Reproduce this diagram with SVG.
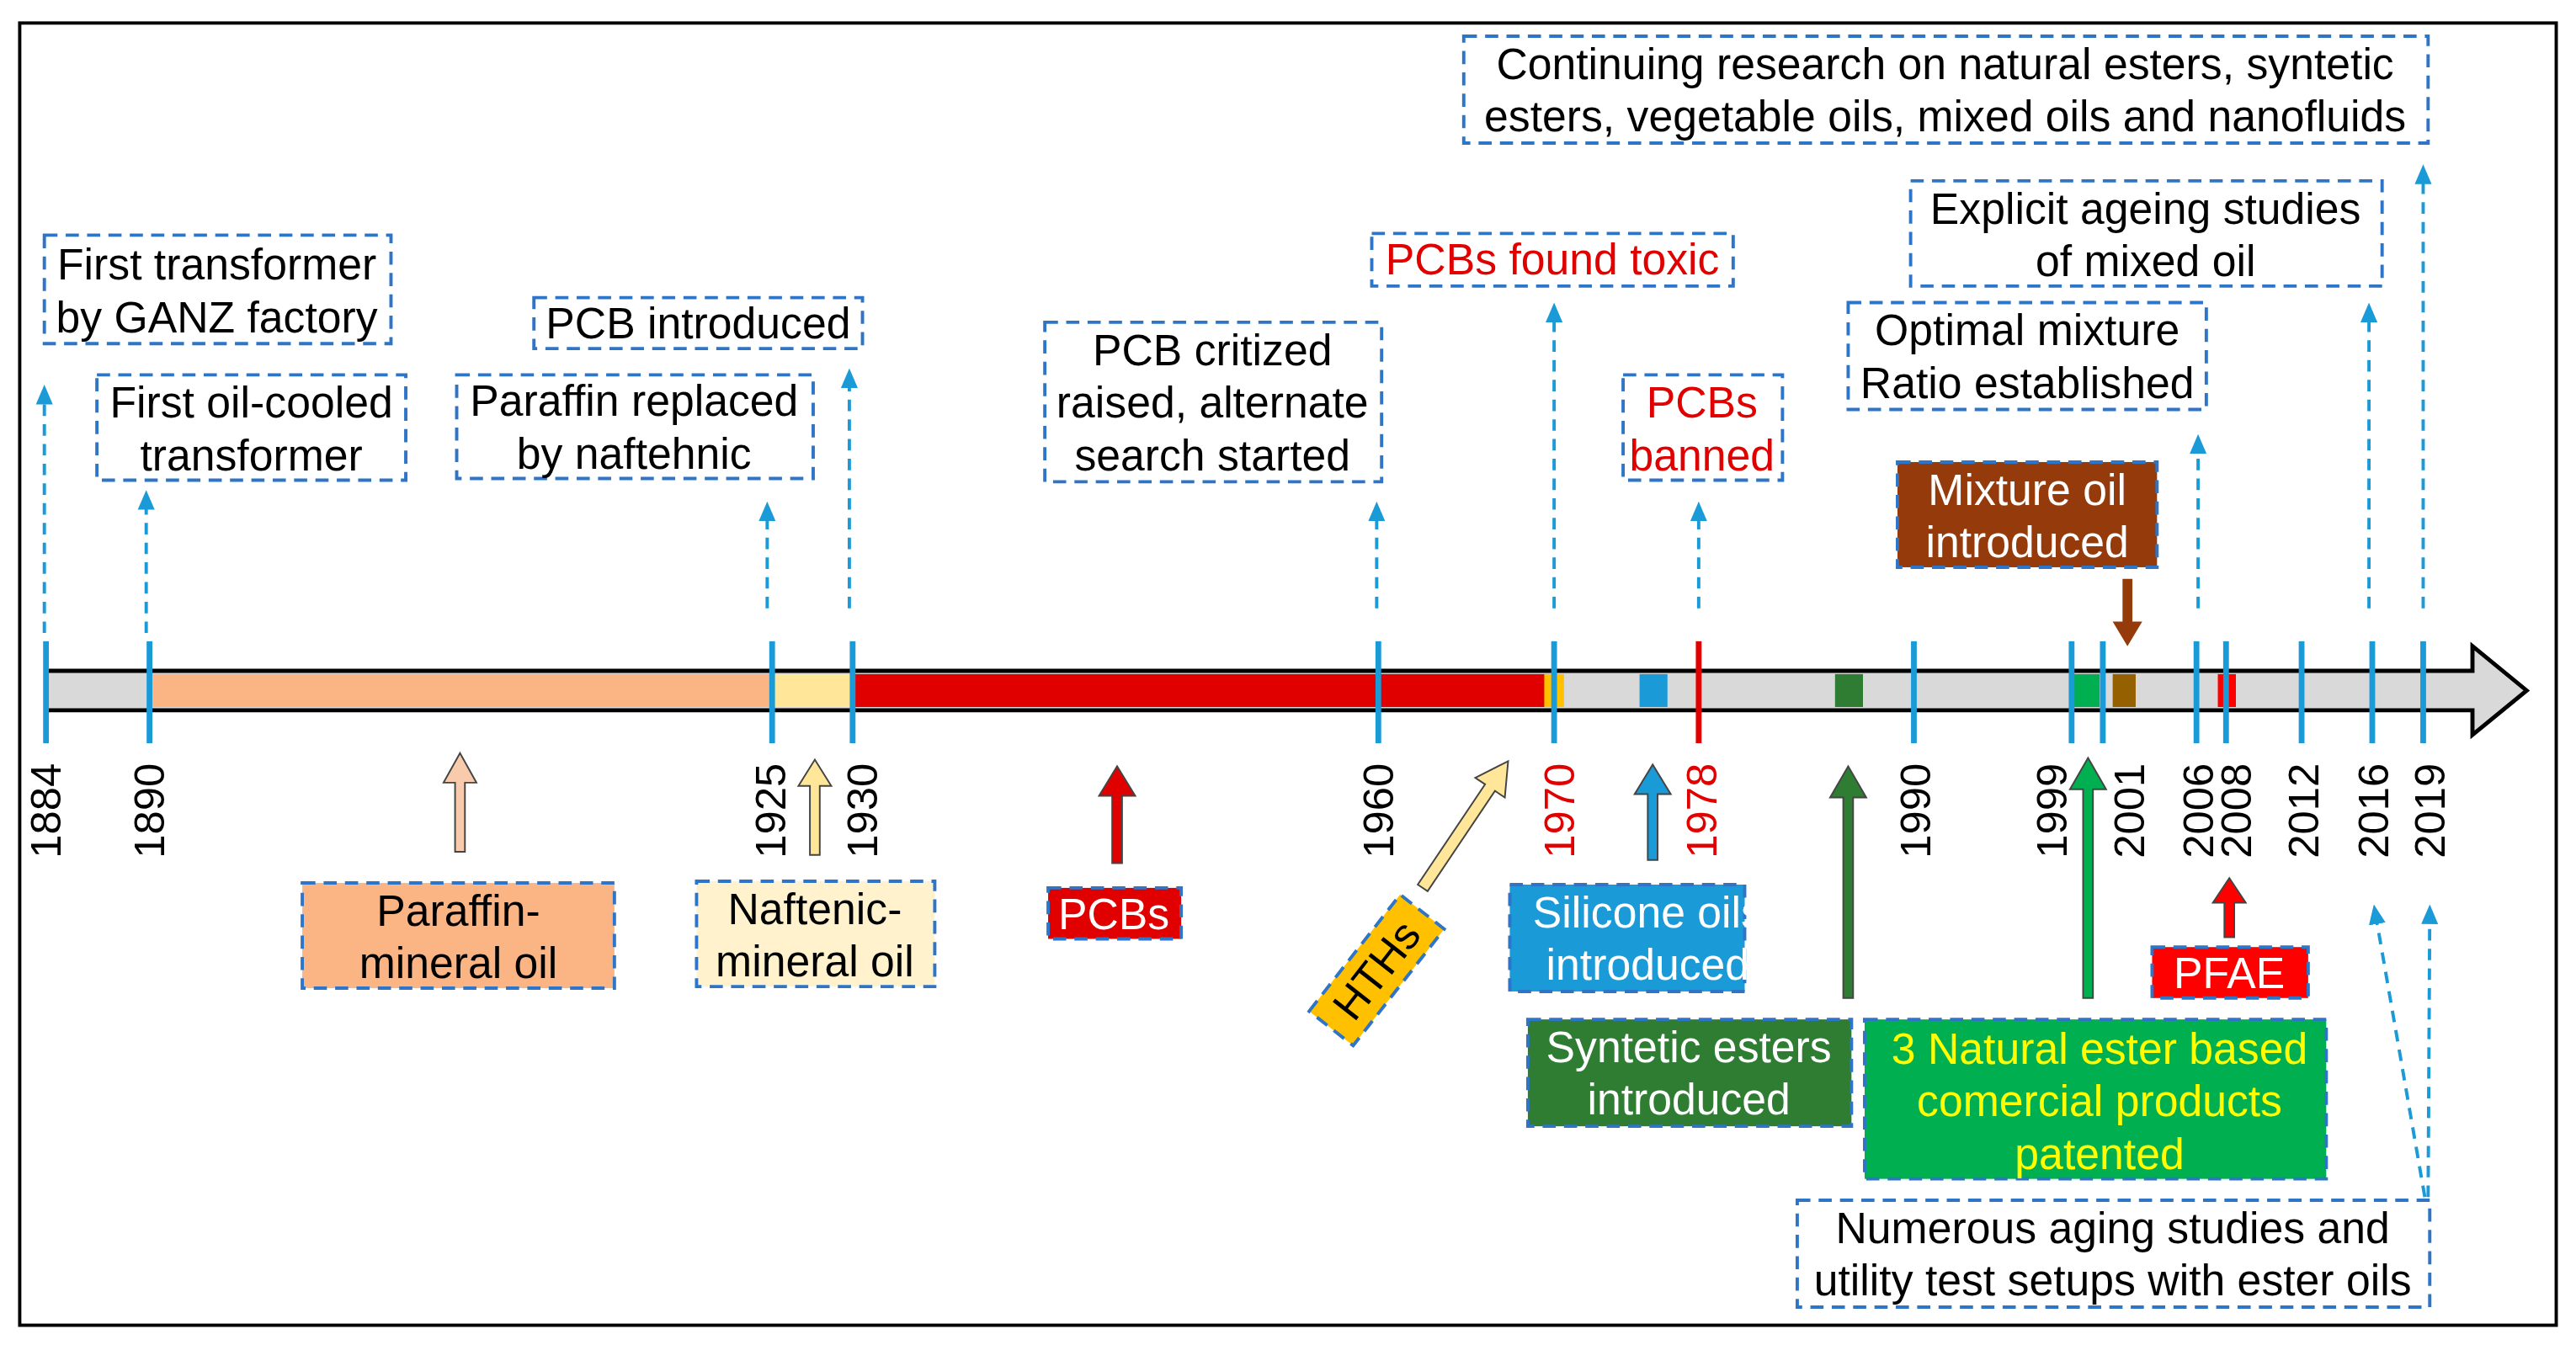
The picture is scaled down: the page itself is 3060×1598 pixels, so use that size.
<svg xmlns="http://www.w3.org/2000/svg" width="3060" height="1598" viewBox="0 0 3060 1598">
<defs>
<marker id="ah" markerWidth="12" markerHeight="14" refX="7" refY="6" orient="auto" markerUnits="userSpaceOnUse" viewBox="0 0 14 12"><path d="M0,0 L14,6 L0,12 z" fill="#1B9AD8"/></marker>
<style>
.t{font-family:"Liberation Sans",Arial,sans-serif;font-size:26.5px;text-anchor:middle}
.y{font-family:"Liberation Sans",Arial,sans-serif;font-size:26px}
.b{stroke:#2E75C8;stroke-width:2;stroke-dasharray:8 5}
.da{stroke:#1B9AD8;stroke-width:2;stroke-dasharray:7 5;fill:none}
.tk{stroke:#1B9AD8;stroke-width:3.5}
.ba{stroke:#444;stroke-width:1}
</style>
</defs>
<rect width="3060" height="1598" fill="#fff"/>
<g transform="scale(1.9515 1.9535)">
<rect x="12" y="14" width="1544" height="792" fill="none" stroke="#000" stroke-width="2"/>
<g id="timeline">
<polygon points="28,408 1505,408 1505,393 1538,420 1505,447 1505,432 28,432" fill="#D9D9D9" stroke="#000" stroke-width="2.5"/>
<rect x="91" y="410" width="379" height="20" fill="#FBB584"/>
<rect x="470" y="410" width="49" height="20" fill="#FFE699"/>
<rect x="519" y="410" width="427" height="20" fill="#E00000"/>
<rect x="940" y="410" width="12" height="20" fill="#FFC000"/>
<rect x="998" y="410" width="17" height="20" fill="#1B9AD8"/>
<rect x="1117" y="410" width="17" height="20" fill="#2E7D32"/>
<rect x="1262" y="410" width="16" height="20" fill="#00B050"/>
<rect x="1286" y="410" width="14" height="20" fill="#946000"/>
<rect x="1350" y="410" width="11" height="20" fill="#FF0000"/>
</g>
<g id="ticks">
<line class="tk" x1="28" y1="390" x2="28" y2="452"/>
<line class="tk" x1="91" y1="390" x2="91" y2="452"/>
<line class="tk" x1="470" y1="390" x2="470" y2="452"/>
<line class="tk" x1="519" y1="390" x2="519" y2="452"/>
<line class="tk" x1="839" y1="390" x2="839" y2="452"/>
<line class="tk" x1="946" y1="390" x2="946" y2="452"/>
<line x1="1034" y1="390" x2="1034" y2="452" stroke="#E00000" stroke-width="3.5"/>
<line class="tk" x1="1165" y1="390" x2="1165" y2="452"/>
<line class="tk" x1="1261" y1="390" x2="1261" y2="452"/>
<line class="tk" x1="1280" y1="390" x2="1280" y2="452"/>
<line class="tk" x1="1337" y1="390" x2="1337" y2="452"/>
<line class="tk" x1="1355" y1="390" x2="1355" y2="452"/>
<line class="tk" x1="1401" y1="390" x2="1401" y2="452"/>
<line class="tk" x1="1444" y1="390" x2="1444" y2="452"/>
<line class="tk" x1="1475" y1="390" x2="1475" y2="452"/>
</g>
<g id="years" class="y">
<text transform="translate(37,522) rotate(-90)">1884</text>
<text transform="translate(100,522) rotate(-90)">1890</text>
<text transform="translate(478,522) rotate(-90)">1925</text>
<text transform="translate(534,522) rotate(-90)">1930</text>
<text transform="translate(848,522) rotate(-90)">1960</text>
<text transform="translate(958,522) rotate(-90)" fill="#E00000">1970</text>
<text transform="translate(1045,522) rotate(-90)" fill="#E00000">1978</text>
<text transform="translate(1175,522) rotate(-90)">1990</text>
<text transform="translate(1258,522) rotate(-90)">1999</text>
<text transform="translate(1305,522) rotate(-90)">2001</text>
<text transform="translate(1347,522) rotate(-90)">2006</text>
<text transform="translate(1370,522) rotate(-90)">2008</text>
<text transform="translate(1411,522) rotate(-90)">2012</text>
<text transform="translate(1454,522) rotate(-90)">2016</text>
<text transform="translate(1488,522) rotate(-90)">2019</text>
</g>
<g id="connectors">
<line class="da" x1="27" y1="385" x2="27" y2="240" marker-end="url(#ah)"/>
<line class="da" x1="89" y1="385" x2="89" y2="304" marker-end="url(#ah)"/>
<line class="da" x1="467" y1="370" x2="467" y2="311" marker-end="url(#ah)"/>
<line class="da" x1="517" y1="370" x2="517" y2="230" marker-end="url(#ah)"/>
<line class="da" x1="838" y1="370" x2="838" y2="311" marker-end="url(#ah)"/>
<line class="da" x1="946" y1="370" x2="946" y2="190" marker-end="url(#ah)"/>
<line class="da" x1="1034" y1="370" x2="1034" y2="311" marker-end="url(#ah)"/>
<line class="da" x1="1338" y1="370" x2="1338" y2="270" marker-end="url(#ah)"/>
<line class="da" x1="1442" y1="370" x2="1442" y2="190" marker-end="url(#ah)"/>
<line class="da" x1="1475" y1="370" x2="1475" y2="106" marker-end="url(#ah)"/>
<line class="da" x1="1476" y1="728" x2="1446" y2="556" marker-end="url(#ah)"/>
<line class="da" x1="1478" y1="728" x2="1479" y2="556" marker-end="url(#ah)"/>
<polygon points="1292,352 1298,352 1298,378 1304,378 1295,393 1286,378 1292,378" fill="#953A0A"/>
<polygon class="ba" points="277,518 283,518 283,476 290,476 280,458 270,476 277,476" fill="#F8CBAD"/>
<polygon class="ba" points="493,520 499,520 499,478 506,478 496,462 486,478 493,478" fill="#FFE699"/>
<polygon class="ba" points="677,525 683,525 683,484 691,484 680,466 669,484 677,484" fill="#E00000"/>
<polygon class="ba" points="1003,523 1009,523 1009,483 1017,483 1006,465 995,483 1003,483" fill="#1B9AD8"/>
<polygon class="ba" points="1122,607 1128,607 1128,485 1136,485 1125,466 1114,485 1122,485" fill="#2E7D32"/>
<polygon class="ba" points="1268,607 1274,607 1274,480 1282,480 1271,461 1260,480 1268,480" fill="#00B050"/>
<polygon class="ba" points="1354,570 1360,570 1360,549 1367,549 1357,534 1347,549 1354,549" fill="#FF0000"/>
<polygon class="ba" points="863,538 869,542 910,481 916,485 918,463 898,473 904,477" fill="#FFE699"/>
</g>
<g id="n-ganz"><rect class="b" x="27" y="143" width="211" height="66" fill="#fff"/><text class="t" x="132" y="170">First transformer</text><text class="t" x="132" y="202">by GANZ factory</text></g>
<g id="n-oilcooled"><rect class="b" x="59" y="228" width="188" height="64" fill="#fff"/><text class="t" x="153" y="254">First oil-cooled</text><text class="t" x="153" y="286">transformer</text></g>
<g id="n-paraffinrep"><rect class="b" x="278" y="228" width="217" height="63" fill="#fff"/><text class="t" x="386" y="253">Paraffin replaced</text><text class="t" x="386" y="285">by naftehnic</text></g>
<g id="n-pcbintro"><rect class="b" x="325" y="181" width="200" height="31" fill="#fff"/><text class="t" x="425" y="206">PCB introduced</text></g>
<g id="n-pcbcrit"><rect class="b" x="636" y="196" width="205" height="97" fill="#fff"/><text class="t" x="738" y="222">PCB critized</text><text class="t" x="738" y="254">raised, alternate</text><text class="t" x="738" y="286">search started</text></g>
<g id="n-toxic"><rect class="b" x="835" y="142" width="220" height="32" fill="#fff"/><text class="t" x="945" y="167" fill="#E00000">PCBs found toxic</text></g>
<g id="n-banned"><rect class="b" x="988" y="228" width="97" height="64" fill="#fff"/><text class="t" x="1036" y="254" fill="#E00000">PCBs</text><text class="t" x="1036" y="286" fill="#E00000">banned</text></g>
<g id="n-mixture"><rect class="b" x="1155" y="281" width="158" height="64" fill="#953A0A"/><text class="t" x="1234" y="307" fill="#fff">Mixture oil</text><text class="t" x="1234" y="339" fill="#fff">introduced</text></g>
<g id="n-optimal"><rect class="b" x="1125" y="184" width="218" height="65" fill="#fff"/><text class="t" x="1234" y="210">Optimal mixture</text><text class="t" x="1234" y="242">Ratio established</text></g>
<g id="n-explicit"><rect class="b" x="1163" y="110" width="287" height="64" fill="#fff"/><text class="t" x="1306" y="136">Explicit ageing studies</text><text class="t" x="1306" y="168">of mixed oil</text></g>
<g id="n-continuing"><rect class="b" x="891" y="22" width="587" height="65" fill="#fff"/><text class="t" x="1184" y="48">Continuing research on natural esters, syntetic</text><text class="t" x="1184" y="80">esters, vegetable oils, mixed oils and nanofluids</text></g>
<g id="n-paraffinoil"><rect class="b" x="184" y="537" width="190" height="64" fill="#FBB584"/><text class="t" x="279" y="563">Paraffin-</text><text class="t" x="279" y="595">mineral oil</text></g>
<g id="n-naftenic"><rect class="b" x="424" y="536" width="145" height="64" fill="#FFF2CC"/><text class="t" x="496" y="562">Naftenic-</text><text class="t" x="496" y="594">mineral oil</text></g>
<g id="n-pcbs"><rect class="b" x="638" y="540" width="81" height="31" fill="#E00000"/><text class="t" x="678" y="565" fill="#fff">PCBs</text></g>
<g id="n-hths" transform="translate(838,590) rotate(-52)"><rect class="b" x="-45" y="-17" width="90" height="34" fill="#FFC000"/><text class="t" x="0" y="9">HTHs</text></g>
<g id="n-silicone"><rect class="b" x="919" y="538" width="143" height="65" fill="#1B9AD8"/><text class="t" x="1003" y="564" fill="#fff">Silicone oils</text><text class="t" x="1003" y="596" fill="#fff">introduced</text></g>
<g id="n-syntetic"><rect class="b" x="930" y="620" width="197" height="65" fill="#2E7D32"/><text class="t" x="1028" y="646" fill="#fff">Syntetic esters</text><text class="t" x="1028" y="678" fill="#fff">introduced</text></g>
<g id="n-natural"><rect class="b" x="1135" y="620" width="281" height="97" fill="#00B050"/><text class="t" x="1278" y="647" fill="#FFFF00">3 Natural ester based</text><text class="t" x="1278" y="679" fill="#FFFF00">comercial products</text><text class="t" x="1278" y="711" fill="#FFFF00">patented</text></g>
<g id="n-pfae"><rect class="b" x="1310" y="576" width="95" height="31" fill="#FF0000"/><text class="t" x="1357" y="601" fill="#fff">PFAE</text></g>
<g id="n-numerous"><rect class="b" x="1094" y="730" width="385" height="65" fill="#fff"/><text class="t" x="1286" y="756">Numerous aging studies and</text><text class="t" x="1286" y="788">utility test setups with ester oils</text></g>
</g>
</svg>
